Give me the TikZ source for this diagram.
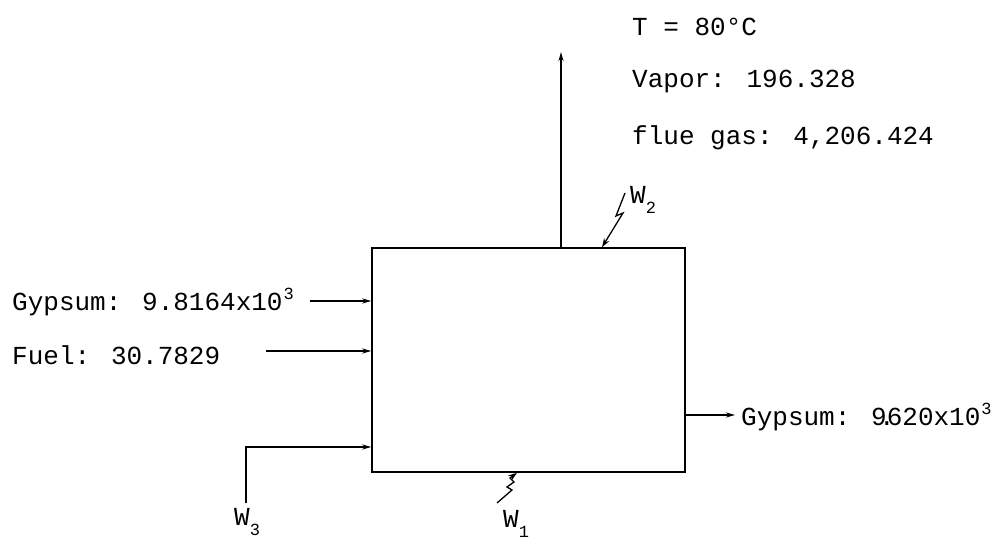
\documentclass[tikz,border=0pt]{standalone}
\usepackage{fontspec}
\setmainfont{Liberation Mono}
\usetikzlibrary{arrows.meta,positioning}
\tikzset{
  flow/.style={line width=1.5pt,-{Stealth[length=9pt,width=5pt]}},
  heat/.style={line width=1.3pt,-{Stealth[length=9pt,width=6pt]}},
  lbl/.style={inner sep=0pt,anchor=west,font=\fontsize{26}{30}\selectfont},
}
\newcommand{\powten}[1]{x10\kern1pt\raisebox{11pt}{\fontsize{17}{17}\selectfont #1}}
\newcommand{\wsub}[1]{W\raisebox{-10pt}{\fontsize{17}{17}\selectfont #1}}

\begin{document}
\begin{tikzpicture}[x=1pt,y=-1pt]
\useasboundingbox (0,0) rectangle (997,545);
\node[draw,line width=1.5pt,minimum width=313pt,minimum height=224pt,inner sep=0pt] (unit) at (528.5,360) {};
% inlets
\coordinate (gin) at (310,301);
\coordinate (fin) at (266,351);
\coordinate (w3) at (246,503);
\draw[flow] (gin) -- (gin -| unit.west);
\draw[flow] (fin) -- (fin -| unit.west);
\draw[flow] (w3) |- (unit.west |- 0,447);
\node[lbl] (gypin) at (12,302) {Gypsum: 9.8164\powten{3}};
\node[lbl] (fuel) at (12,355) {Fuel: 30.7829};
\node[lbl] (w3lbl) at (234,522) {\wsub{3}};
% vapour outlet
\coordinate (vap) at (561,52);
\draw[flow] (vap |- unit.north) -- (vap);
\node[lbl] (temp) at (632,27) {T = 80°C};
\node[lbl] (vapor) at (632,82) {Vapor: 196.328};
\node[lbl] (flue) at (632,138) {flue gas: 4,206.424};
% gypsum outlet
\coordinate (gout) at (735,415);
\draw[flow] (gout -| unit.east) -- (gout);
\node[lbl] (gypout) at (741,417) {Gypsum: 9\kern-.3em.\kern-.3em620\powten{3}};
% heat and work
\coordinate (w2) at (625,193);
\draw[heat] (w2) -- (616,216) -- (623,213) -- (602,0 |- unit.north);
\node[lbl] (w2lbl) at (630,200) {\wsub{2}};
\coordinate (w1) at (497,503);
\draw[heat] (w1) -- (512,490) -- (507,487) -- (514,482) -- (510,478) -- (517,0 |- unit.south);
\node[lbl] (w1lbl) at (503,524) {\wsub{1}};
\end{tikzpicture}
\end{document}
